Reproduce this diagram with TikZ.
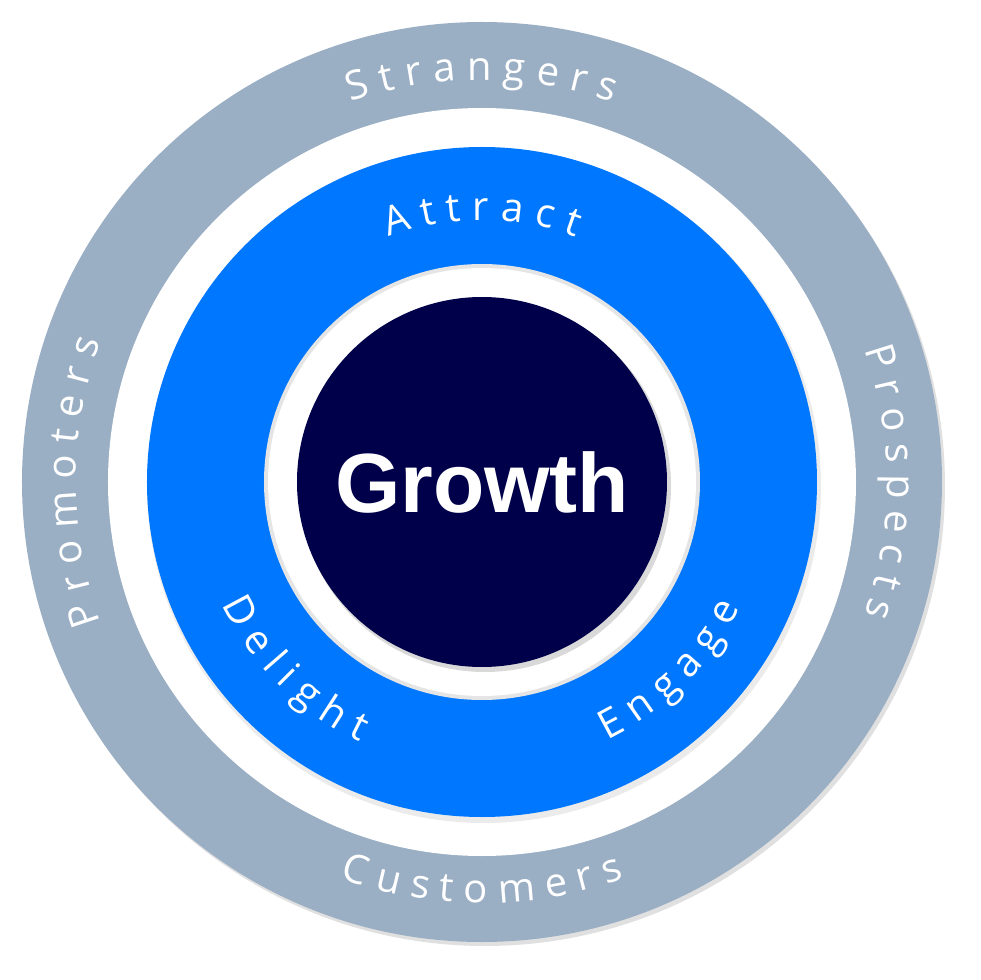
\documentclass[tikz,border=0pt]{standalone}
\usepackage{fontspec}
\setsansfont{Open Sans}
\newfontfamily\growthfont{Liberation Sans}
\usetikzlibrary{decorations.text}
\definecolor{ringgrey}{HTML}{9AAEC4}
\definecolor{ringblue}{HTML}{0077FF}
\definecolor{coreblue}{HTML}{00004A}
\tikzset{
  ringtext/.style={decorate, decoration={text effects along path, text={#1}, text align=center,
    text effects/.cd, text along path,
    characters={text=white, font=\sffamily\fontsize{40}{40}\selectfont, inner xsep=5.5pt}}}
}
\begin{document}
\begin{tikzpicture}[x=1pt,y=1pt]
  \useasboundingbox (-482,-498) rectangle (498,482);
  \def\rout{460}
  % rings
  \fill[black!12] (3,-4) circle (\rout);
  \fill[ringgrey] (0,0) circle (\rout);
  \fill[white] (0,0) circle (374);
  \fill[black!8] (2,-4) circle (337);
  \fill[ringblue] (0,0) circle (335);
  \fill[black!10] (0,0) circle (218);
  \fill[white] (0,0) circle (214);
  \fill[black!15] (3,-4) circle (186);
  \node[circle, fill=coreblue, minimum size=370pt, inner sep=0pt, text=white,
    font=\growthfont\bfseries\fontsize{84}{84}\selectfont] (growth) at (0,0) {Growth};
  % outer ring labels
  \path[ringtext=Strangers] (130:402) arc[start angle=130, end angle=50, radius=402];
  \path[ringtext=Prospects] (50:405) arc[start angle=50, end angle=-50, radius=405];
  \path[ringtext=Customers] (220:421) arc[start angle=220, end angle=320, radius=421];
  \path[ringtext=Promoters] (230:406) arc[start angle=230, end angle=130, radius=406];
  % inner ring labels
  \path[ringtext=Attract] (140:262) arc[start angle=140, end angle=40, radius=262];
  \path[ringtext=Delight] (170:287) arc[start angle=170, end angle=280, radius=287];
  \path[ringtext=Engage] (260:287) arc[start angle=260, end angle=370, radius=287];
\end{tikzpicture}
\end{document}
